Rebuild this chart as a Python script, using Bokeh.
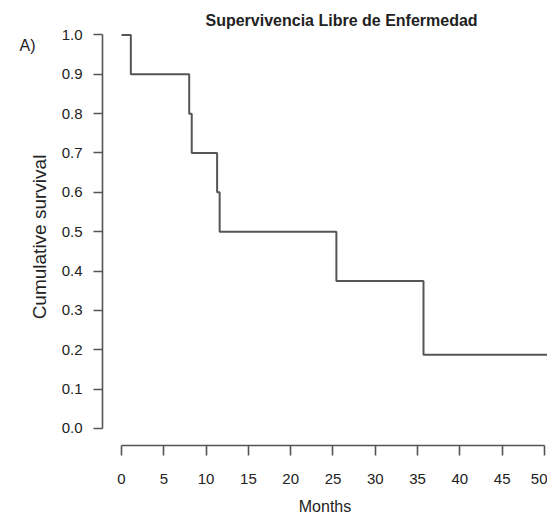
from bokeh.plotting import figure
from bokeh.models import Range1d, FixedTicker, PrintfTickFormatter, Title, LinearAxis
from bokeh.embed import file_html
from bokeh.resources import INLINE

# Kaplan-Meier step data
months = [0.0, 1.1, 8.0, 8.3, 11.3, 11.6, 25.4, 35.7, 52.0]
survival = [1.0, 0.9, 0.8, 0.7, 0.6, 0.5, 0.375, 0.1875, 0.1875]
x_ticks = [0, 5, 10, 15, 20, 25, 30, 35, 40, 45, 50]
y_ticks = [0.0, 0.1, 0.2, 0.3, 0.4, 0.5, 0.6, 0.7, 0.8, 0.9, 1.0]
title_text = "Supervivencia Libre de Enfermedad"
panel_text = "A)"
panel_level = 0.974
x_label = "Months"
y_label = "Cumulative survival"

FONT = "Liberation Sans"
LINE = "#555555"
TEXT = "#222222"

p = figure(width=547, height=517, output_backend="svg", toolbar_location=None,
           x_range=Range1d(-2.25, 50.36), y_range=Range1d(-0.0432, 1.0163),
           min_border_left=102, min_border_right=0, min_border_top=28, min_border_bottom=72)
p.outline_line_color = None
p.xgrid.visible = False
p.ygrid.visible = False
p.background_fill_color = "white"
p.border_fill_color = "white"

p.step(months, survival, mode="after", line_color=LINE, line_width=2)

for ax in (p.xaxis[0], p.yaxis[0]):
    ax.axis_line_color = LINE
    ax.axis_line_width = 1.6
    ax.major_tick_line_color = LINE
    ax.major_tick_line_width = 1.6
    ax.major_tick_in = 0
    ax.minor_tick_line_color = None
    ax.major_label_text_font = FONT
    ax.major_label_text_font_size = "15px"
    ax.major_label_text_color = TEXT
    ax.axis_label_text_font = FONT
    ax.axis_label_text_font_style = "normal"
    ax.axis_label_text_color = TEXT

p.xaxis[0].ticker = FixedTicker(ticks=x_ticks)
p.xaxis[0].formatter = PrintfTickFormatter(format="%d")
p.xaxis[0].bounds = (x_ticks[0], x_ticks[-1])
p.xaxis[0].major_tick_out = 10
p.xaxis[0].major_label_standoff = 18
p.xaxis[0].axis_label = x_label
p.xaxis[0].axis_label_text_font_size = "16px"
p.xaxis[0].axis_label_standoff = 11

p.yaxis[0].ticker = FixedTicker(ticks=y_ticks)
p.yaxis[0].formatter = PrintfTickFormatter(format="%.1f")
p.yaxis[0].bounds = (y_ticks[0], y_ticks[-1])
p.yaxis[0].major_tick_out = 9
p.yaxis[0].major_label_standoff = 11
p.yaxis[0].major_label_orientation = "horizontal"
p.yaxis[0].axis_label = y_label
p.yaxis[0].axis_label_text_font_size = "19px"
p.yaxis[0].axis_label_standoff = 9

# panel letter "A)" drawn as the label of an extra, line-less left axis
tag_axis = LinearAxis(ticker=FixedTicker(ticks=[panel_level]),
                      major_label_overrides={panel_level: panel_text},
                      axis_line_color=None, major_tick_line_color=None,
                      minor_tick_line_color=None, major_tick_in=0, major_tick_out=0,
                      major_label_standoff=-10, major_label_orientation="horizontal",
                      major_label_text_font=FONT, major_label_text_font_size="16px",
                      major_label_text_color=TEXT)
p.add_layout(tag_axis, "left")

t = Title(text=title_text, align="left", offset=103, standoff=0,
          text_font=FONT, text_font_size="16px", text_font_style="bold",
          text_color=TEXT)
p.add_layout(t, "above")

open("out.html", "w").write(file_html(p, INLINE))
